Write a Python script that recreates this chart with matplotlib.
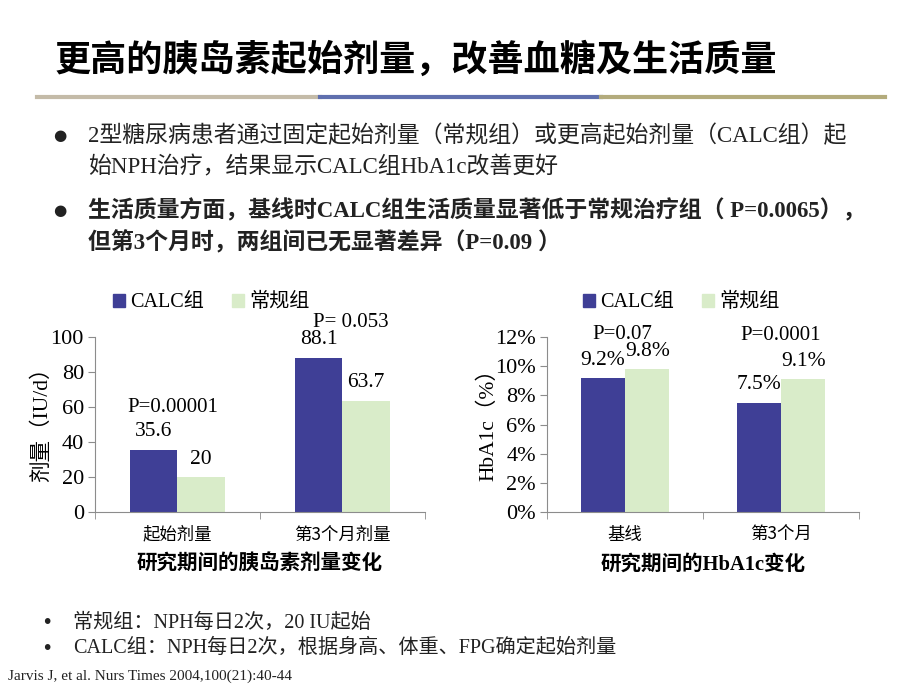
import numpy as np
import matplotlib
matplotlib.use('Agg')
import matplotlib.pyplot as plt
from matplotlib.patches import Patch

plt.rcParams['font.family'] = ['Liberation Serif', 'Noto Sans CJK SC', 'DejaVu Sans']

# 数据
groups = ['CALC组', '常规组']
dose_cats = ['起始剂量', '第3个月剂量']
dose_calc = [35.6, 88.1]
dose_conv = [20, 63.7]
dose_p = ['P=0.00001', 'P= 0.053']

hba1c_cats = ['基线', '第3个月']
hba1c_calc = [9.2, 7.5]
hba1c_conv = [9.8, 9.1]
hba1c_p = ['P=0.07', 'P=0.0001']

title = '更高的胰岛素起始剂量，改善血糖及生活质量'
bullets = [
    ('2型糖尿病患者通过固定起始剂量（常规组）或更高起始剂量（CALC组）起', '始NPH治疗，结果显示CALC组HbA1c改善更好', 'normal'),
    ('生活质量方面，基线时CALC组生活质量显著低于常规治疗组（ P=0.0065），', '但第3个月时，两组间已无显著差异（P=0.09 ）', 'bold'),
]
notes = ['常规组：NPH每日2次，20 IU起始', 'CALC组：NPH每日2次，根据身高、体重、FPG确定起始剂量']
ref = 'Jarvis J, et al. Nurs Times 2004,100(21):40-44'

c_calc = '#3f3f96'
c_conv = '#d9ecc9'
axis_c = '#8c8c8c'

W, H = 920, 690
fig = plt.figure(figsize=(W / 100, H / 100), dpi=100)


def px(x, y):
    return x / W, 1 - y / H


# 标题和分隔线
fig.text(*px(55, 60), title, fontsize=26, fontweight='heavy', family=['Noto Sans CJK SC'],
         va='center', ha='left', color='black')
for x0, x1, c in [(37, 320, '#c4bba8'), (320, 601, '#5f6fae'), (601, 885, '#b3ab7c')]:
    fig.add_artist(plt.Line2D([x0 / W, x1 / W], [1 - 97 / H] * 2, color=c, lw=3))

# 要点
ys = [(136, 167), (211, 243)]
for (l1, l2, w), (y1, y2) in zip(bullets, ys):
    fig.text(*px(60, y1), '●', fontsize=11, family=['DejaVu Sans'], va='center', ha='center', color='#222222')
    fig.text(*px(88, y1), l1, fontsize=16.5, fontweight=w, va='center', color='#222222')
    fig.text(*px(88, y2), l2, fontsize=16.5, fontweight=w, va='center', color='#222222')

for i, n in enumerate(notes):
    y = 623 + i * 25
    fig.text(*px(47, y), '•', fontsize=14, family=['DejaVu Sans'], va='center', ha='center', color='#222222')
    fig.text(*px(73, y), n, fontsize=14.5, va='center', color='#222222')
fig.text(*px(8, 676), ref, fontsize=11, va='center', color='#222222')


def bar_chart(rect, cats, calc, conv, ymax, yticks, fmt, ylabel, sub, pvals, ppos, lab_fmt, legx, labx):
    ax = fig.add_axes(rect)
    x = np.arange(len(cats))
    bw = 0.285
    b1 = ax.bar(x - bw / 2, calc, bw, color=c_calc)
    b2 = ax.bar(x + bw / 2, conv, bw, color=c_conv)
    for bars, vals in [(b1, calc), (b2, conv)]:
        for b, v in zip(bars, vals):
            ax.annotate(lab_fmt.format(v), (b.get_x() + b.get_width() / 2, v), xytext=(0, 6),
                        textcoords='offset points', ha='center', va='bottom', fontsize=15.5)
    for (xp, yp), p in zip(ppos, pvals):
        ax.text(xp, yp, p, ha='center', va='center', fontsize=15)
    ax.set_xlim(-0.5, len(cats) - 0.5)
    ax.set_ylim(0, ymax)
    ax.set_yticks(yticks)
    ax.set_yticklabels([fmt.format(t) for t in yticks], fontsize=16)
    ax.set_xticks(x)
    ax.set_xticklabels(cats, fontsize=12.5, family=['Noto Sans CJK SC'])
    ax.tick_params(axis='x', length=0, pad=10)
    ax.set_xticks(np.arange(len(cats) + 1) - 0.5, minor=True)
    ax.tick_params(axis='x', which='minor', length=5, color=axis_c)
    ax.tick_params(axis='y', length=5, color=axis_c, pad=3)
    for s in ['top', 'right']:
        ax.spines[s].set_visible(False)
    for s in ['left', 'bottom']:
        ax.spines[s].set_color(axis_c)
    ax.set_ylabel(ylabel, fontsize=15.5)
    ax.yaxis.set_label_coords(labx, 0.53)
    ax.text(0.5, -0.3, sub, transform=ax.transAxes, ha='center', va='center',
            fontsize=14.8, fontweight='bold')
    handles = [Patch(color=c_calc), Patch(color=c_conv)]
    ax.legend(handles, groups, ncol=2, loc='center left', bbox_to_anchor=(legx, 1.195),
              frameon=False, fontsize=14.5, handlelength=0.6, handleheight=0.6,
              handletextpad=0.25, columnspacing=1.4, borderaxespad=0)
    return ax


l, b = px(95, 512)
bar_chart([l, b, (425 - 95) / W, 175 / H], dose_cats, dose_calc, dose_conv, 100,
          [0, 20, 40, 60, 80, 100], '{}', '剂量（IU/d）', '研究期间的胰岛素剂量变化',
          dose_p, [(-0.03, 59.5), (1.05, 108.5)], '{:g}', 0.03, -0.13)

l, b = px(547, 512)
bar_chart([l, b, (859 - 547) / W, 175 / H], hba1c_cats, hba1c_calc, hba1c_conv, 12,
          [0, 2, 4, 6, 8, 10, 12], '{}%', 'HbA1c（%）', '研究期间的HbA1c变化',
          hba1c_p, [(-0.02, 12.2), (1.0, 12.1)], '{:.1f}%', 0.09, -0.155)

fig.savefig('out.png', dpi=100)
